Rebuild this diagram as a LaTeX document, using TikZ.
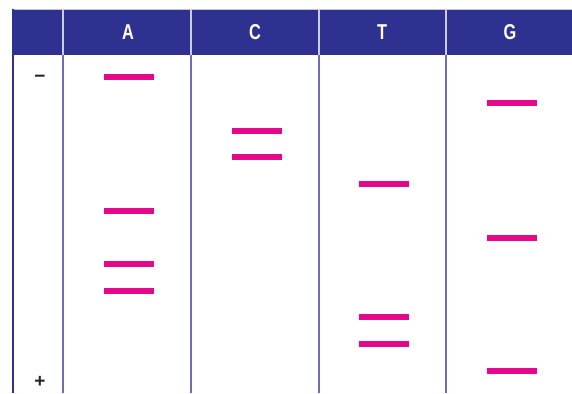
\documentclass[tikz,border=0pt]{standalone}
\usepackage{fontspec}
\setmainfont{Liberation Sans}
\newfontfamily\hdrfont{Liberation Sans}[FakeStretch=0.76]
\definecolor{hdrblue}{HTML}{2E3190}
\definecolor{divline}{HTML}{6F6CB8}
\definecolor{bandpink}{HTML}{E5088C}
\begin{document}
\begin{tikzpicture}[x=1pt,y=-1pt,
  hdrtext/.style={text=white,font=\hdrfont\bfseries\fontsize{21.5}{21.5}\selectfont,inner sep=0pt},
  signtext/.style={text=black!85,font=\bfseries\fontsize{19}{19}\selectfont,inner sep=0pt,anchor=base},
  band/.style={fill=bandpink,draw=none,minimum width=50pt,minimum height=6pt,inner sep=0pt},
  divider/.style={draw=divline,line width=1.4pt}]
\useasboundingbox (0,0) rectangle (572,393);
\fill[hdrblue] (12,9) rectangle (572,55);
\draw[white!70!hdrblue,line width=0.8pt] (12,9.4) -- (572,9.4);
\foreach \x in {63,191,319,446} {
  \draw[white!75!hdrblue,line width=1.2pt] (\x,9) -- (\x,55);
  \draw[divider] (\x,55) -- (\x,393);
}
\draw[hdrblue,line width=2.2pt] (13.2,9) -- (13.2,393);
\node[hdrtext] (hA) at (128,32) {A};
\node[hdrtext] (hC) at (255,32) {C};
\node[hdrtext] (hT) at (382,32) {T};
\node[hdrtext] (hG) at (510,32) {G};
\node[signtext] (minus) at (40,83) {−};
\node[signtext] (plus) at (40,387) {+};
% A bands
\node[band] (a1) at (129,77) {};
\node[band] (a2) at (129,210.5) {};
\node[band] (a3) at (129,264) {};
\node[band] (a4) at (129,290.5) {};
% C bands
\node[band] (c1) at (257,130.5) {};
\node[band] (c2) at (257,157) {};
% T bands
\node[band] (t1) at (384,183.5) {};
\node[band] (t2) at (384,317) {};
\node[band] (t3) at (384,344) {};
% G bands
\node[band] (g1) at (512,103.5) {};
\node[band] (g2) at (512,237.5) {};
\node[band] (g3) at (512,370.5) {};
\end{tikzpicture}
\end{document}
